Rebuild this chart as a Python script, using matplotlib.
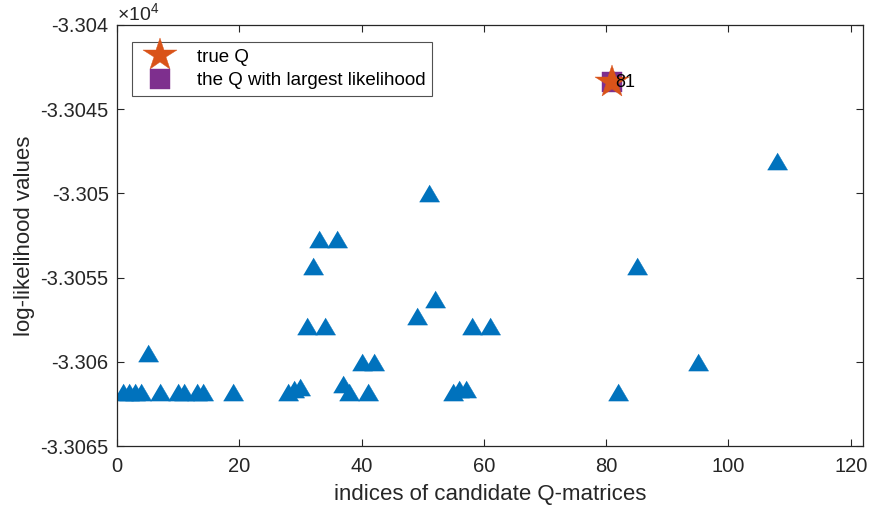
import numpy as np
import matplotlib.pyplot as plt

plt.rcParams['font.family'] = ['Liberation Sans', 'DejaVu Sans']
plt.rcParams['mathtext.fontset'] = 'custom'
plt.rcParams['mathtext.rm'] = 'Liberation Sans'

# candidate Q-matrix indices and their log-likelihood values
idx = [1, 2, 3, 4, 5, 7, 10, 11, 13, 14, 19, 28, 29, 30, 31, 32, 33, 34, 36,
       37, 38, 40, 41, 42, 49, 51, 52, 55, 56, 57, 58, 61, 82, 85, 95, 108]
loglik = [-33061.8, -33061.8, -33061.8, -33061.8, -33059.5, -33061.8, -33061.8,
          -33061.8, -33061.8, -33061.8, -33061.8, -33061.8, -33061.6, -33061.5,
          -33057.9, -33054.3, -33052.7, -33057.9, -33052.7, -33061.3, -33061.8,
          -33060.0, -33061.8, -33060.0, -33057.3, -33050.0, -33056.3, -33061.8,
          -33061.6, -33061.6, -33057.9, -33057.9, -33061.8, -33054.3, -33060.0,
          -33048.1]
true_idx = 81
true_val = -33043.4
best_idx = 81
best_val = -33043.4

xticks = [0, 20, 40, 60, 80, 100, 120]
yticks = [-33065, -33060, -33055, -33050, -33045, -33040]

blue = '#0072BD'
orange = '#D95319'
purple = '#7E2F8E'
axcol = '#262626'

fig = plt.figure(figsize=(8.72, 5.12), dpi=100)
ax = fig.add_axes([0.1342, 0.1289, 0.8555, 0.8223])

tri = [(-1, -0.85), (1, -0.85), (0, 0.85)]
ax.plot(idx, loglik, linestyle='none', marker=tri, markersize=14.5,
        color=blue, markeredgecolor=blue, markeredgewidth=0.3)
ax.plot([best_idx], [best_val], linestyle='none', marker='s', markersize=15,
        color=purple, markeredgecolor=purple, markeredgewidth=0.3,
        label='the Q with largest likelihood')
ax.plot([true_idx], [true_val], linestyle='none', marker='*', markersize=25,
        color=orange, markeredgecolor=orange, markeredgewidth=0.3,
        label='true Q')
ax.text(true_idx + 0.5, true_val, str(true_idx), fontsize=13, color='black',
        ha='left', va='center')

ax.set_xlim(0, 122)
ax.set_ylim(-33065, -33040)
ax.set_xticks(xticks)
ax.set_yticks(yticks)
ax.set_yticklabels(['%g' % (v / 1e4) for v in yticks])
ax.tick_params(direction='in', length=5, width=0.8, colors=axcol,
               labelsize=14.5, top=True, right=True, pad=6)
ax.tick_params(axis='x', pad=8)
for s in ax.spines.values():
    s.set_color(axcol)
    s.set_linewidth(0.9)

ax.text(0.0, 1.0, r'$\times10^{4}$', transform=ax.transAxes, fontsize=14,
        color=axcol, ha='left', va='bottom')

ax.set_xlabel('indices of candidate Q-matrices', fontsize=16, color=axcol, labelpad=6)
ax.set_ylabel('log-likelihood values', fontsize=16, color=axcol, labelpad=4)

h, l = ax.get_legend_handles_labels()
leg = ax.legend(h[::-1], l[::-1], loc='upper left', bbox_to_anchor=(0.02, 0.96),
                fontsize=13.5, frameon=True, fancybox=False, borderpad=0.35,
                labelspacing=0.35, handlelength=2.3, handletextpad=0.8,
                borderaxespad=0)
leg.get_frame().set_edgecolor(axcol)
leg.get_frame().set_linewidth(0.8)

fig.savefig('out.png', dpi=100)
